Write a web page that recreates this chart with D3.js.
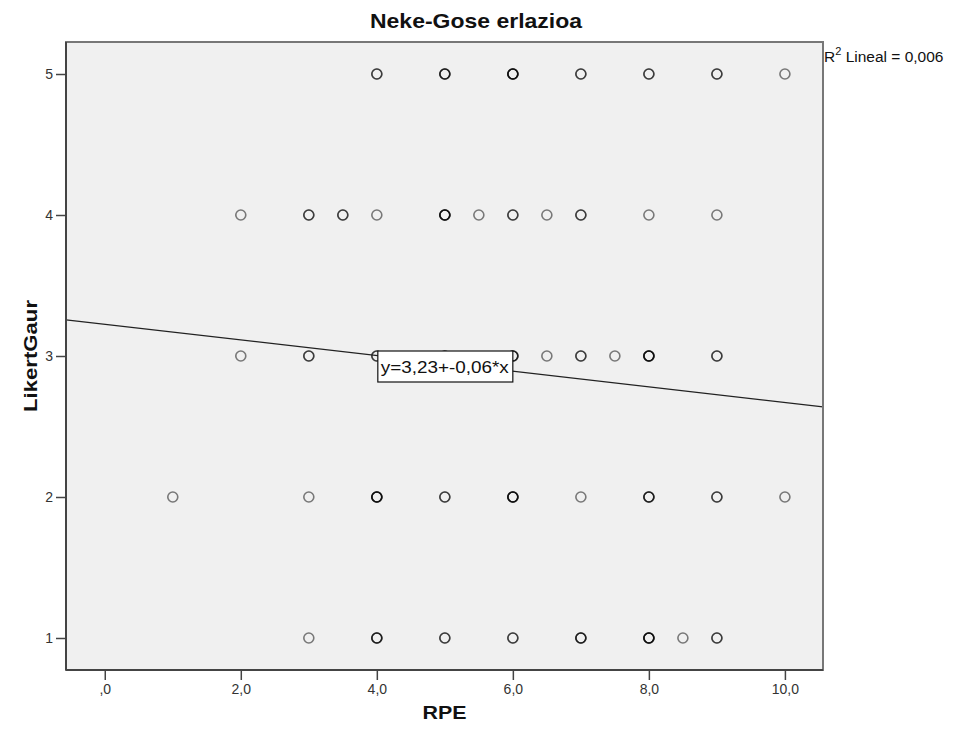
<!DOCTYPE html>
<html><head><meta charset="utf-8">
<script src="https://cdn.jsdelivr.net/npm/d3@7"></script>
<style>body{margin:0;background:#fff;}svg{display:block;font-family:"Liberation Sans",Arial,sans-serif;}</style>
</head><body><svg id="c" width="954" height="737"></svg>
<script>
// Observations: RPE (x), LikertGaur (y), number of overlapping cases
const rpe =   [4,5,6,7,8,9,10, 2,3,3.5,4,5,5.5,6,6.5,7,8,9, 2,3,4,5,6,6.5,7,7.5,8,9, 1,3,4,5,6,7,8,9,10, 3,4,5,6,7,8,8.5,9];
const likert=[5,5,5,5,5,5,5,  4,4,4,4,4,4,4,4,4,4,4,        3,3,3,3,3,3,3,3,3,3,       2,2,2,2,2,2,2,2,2,      1,1,1,1,1,1,1,1];
const counts=[2,3,4,2,2,2,1,  1,2,2,1,4,1,2,1,2,1,1,        1,2,2,2,3,1,2,1,4,2,       1,1,4,2,4,1,3,2,1,      1,3,2,2,3,4,1,2];
const xTicks = [0,2,4,6,8,10];
const yTicks = [1,2,3,4,5];
const fitIntercept = 3.225, fitSlope = -0.0555;
const title = "Neke-Gose erlazioa";
const xLabel = "RPE", yLabel = "LikertGaur";
const eqLabel = "y=3,23+-0,06*x";
const r2Label = "0,006";

const svg = d3.select("#c");
const L=66, R=823, T=42, B=670;
const x = d3.scaleLinear().domain([-0.57,10.56]).range([L,R]);
const y = d3.scaleLinear().domain([0.773,5.227]).range([B,T]);
const fmt = v => (v===0? ",0" : d3.format(".1f")(v).replace(".", ","));

svg.append("rect").attr("x",L).attr("y",T).attr("width",R-L).attr("height",B-T).attr("fill","#f0f0f0");

// points (overlapping observations drawn on top of each other)
const pts = [];
rpe.forEach((v,i)=>{ for(let k=0;k<counts[i];k++) pts.push({x:v,y:likert[i]}); });
svg.append("g").selectAll("circle").data(pts).join("circle")
  .attr("cx",d=>x(d.x)).attr("cy",d=>y(d.y)).attr("r",5)
  .attr("fill","none").attr("stroke","#000").attr("stroke-opacity",0.5).attr("stroke-width",1.6);

// fit line
svg.append("clipPath").attr("id","pc").append("rect").attr("x",L).attr("y",T).attr("width",R-L).attr("height",B-T);
const xd = x.domain();
svg.append("line").attr("clip-path","url(#pc)")
  .attr("x1",x(xd[0])).attr("y1",y(fitIntercept+fitSlope*xd[0]))
  .attr("x2",x(xd[1])).attr("y2",y(fitIntercept+fitSlope*xd[1]))
  .attr("stroke","#222").attr("stroke-width",1.2);

// equation label
const ex = x(4)+1, ey = y(3)-5;
svg.append("rect").attr("x",ex).attr("y",ey).attr("width",135).attr("height",31).attr("fill","#fff").attr("stroke","#111").attr("stroke-width",1.2);
svg.append("text").attr("x",ex+3).attr("y",ey+22).attr("font-size",16).attr("fill","#111")
  .attr("textLength",128).attr("lengthAdjust","spacingAndGlyphs").text(eqLabel);

// frame
svg.append("rect").attr("x",L).attr("y",T).attr("width",R-L).attr("height",B-T).attr("fill","none").attr("stroke","#777").attr("stroke-width",2);
svg.append("line").attr("x1",L).attr("x2",L).attr("y1",T).attr("y2",B).attr("stroke","#444").attr("stroke-width",2);
svg.append("line").attr("x1",L).attr("x2",R).attr("y1",B).attr("y2",B).attr("stroke","#444").attr("stroke-width",2);

// axes
const gx = svg.append("g").attr("transform",`translate(0,${B+1})`)
  .call(d3.axisBottom(x).tickValues(xTicks).tickFormat(fmt).tickSize(9).tickSizeOuter(0));
gx.select(".domain").remove();
gx.selectAll("line").attr("stroke","#444").attr("stroke-width",1.5);
gx.selectAll("text").attr("font-size",14).attr("fill","#333").attr("font-family","Liberation Sans, Arial, sans-serif").attr("dy","0.75em");

const gy = svg.append("g").attr("transform",`translate(${L-1},0)`)
  .call(d3.axisLeft(y).tickValues(yTicks).tickFormat(d3.format("d")).tickSize(9).tickSizeOuter(0));
gy.select(".domain").remove();
gy.selectAll("line").attr("stroke","#444").attr("stroke-width",1.5);
gy.selectAll("text").attr("font-size",14).attr("fill","#333").attr("font-family","Liberation Sans, Arial, sans-serif");

// titles
svg.append("text").attr("x",476).attr("y",28).attr("text-anchor","middle").attr("font-weight","bold").attr("font-size",21).attr("fill","#111")
  .attr("textLength",212).attr("lengthAdjust","spacingAndGlyphs").text(title);
svg.append("text").attr("x",(L+R)/2).attr("y",719).attr("text-anchor","middle").attr("font-weight","bold").attr("font-size",18).attr("fill","#111")
  .attr("textLength",44).attr("lengthAdjust","spacingAndGlyphs").text(xLabel);
svg.append("text").attr("transform",`translate(37,${(T+B)/2}) rotate(-90)`).attr("text-anchor","middle").attr("font-weight","bold").attr("font-size",18).attr("fill","#111")
  .attr("textLength",112).attr("lengthAdjust","spacingAndGlyphs").text(yLabel);

// R2 label
const r2 = svg.append("text").attr("x",R+1).attr("y",62).attr("font-size",15.5).attr("fill","#111");
r2.append("tspan").text("R");
r2.append("tspan").attr("dy",-7).attr("font-size",11).text("2");
r2.append("tspan").attr("dy",7).text(" Lineal = " + r2Label);
</script></body></html>
